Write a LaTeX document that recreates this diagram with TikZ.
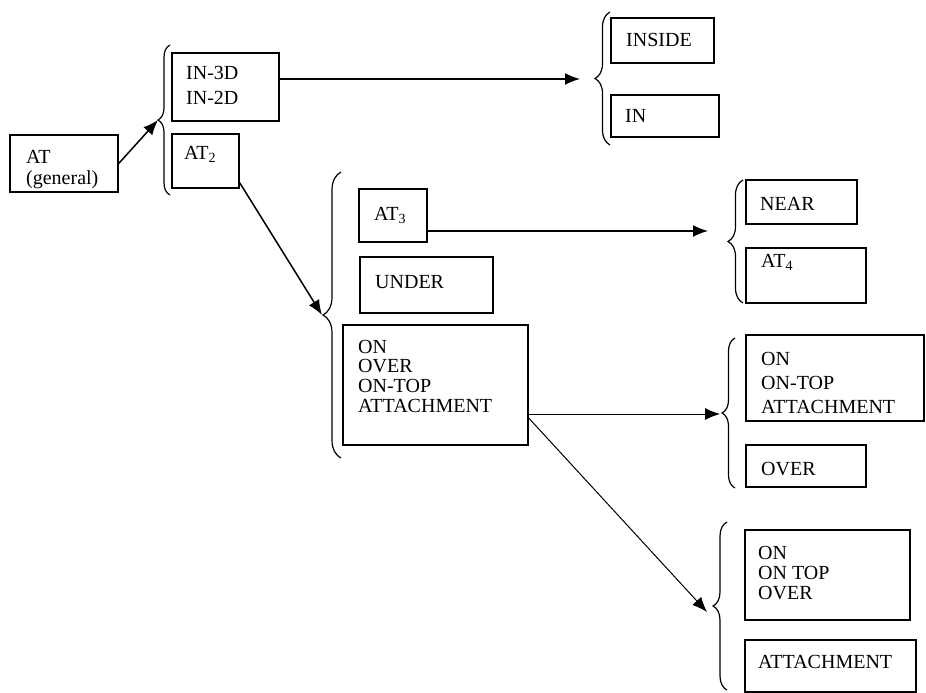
\documentclass[tikz,border=0pt]{standalone}
\usepackage{fontspec}
\setmainfont{Liberation Serif}
\usetikzlibrary{arrows.meta,decorations.pathreplacing,fit}
\begin{document}
\begin{tikzpicture}[x=1pt,y=-1pt,
  box/.style={draw, line width=1.4pt, inner sep=0pt},
  lbl/.style={anchor=base west, inner sep=0pt, font=\fontsize{20}{24}\selectfont},
  brc/.style={decorate, decoration={brace, amplitude=#1}, line width=1.2pt},
  arr/.style={-{Latex[length=15pt,width=12pt]}, line width=1.5pt},
  thinarr/.style={-{Latex[length=15pt,width=12pt]}, line width=1.0pt}]
\useasboundingbox (0,0) rectangle (926,693);

% ---------- boxes ----------
\node[box, fit={(10,135) (118,192)}] (atbox) {};
\node[box, fit={(172,53) (279,121)}] (inbox) {};
\node[box, fit={(172,134) (239,188)}] (at2box) {};
\node[box, fit={(611,18) (714,63)}] (insidebox) {};
\node[box, fit={(611,95) (719,137)}] (inbox2) {};
\node[box, fit={(359,189) (427,242)}] (at3box) {};
\node[box, fit={(360,257) (493,313)}] (underbox) {};
\node[box, fit={(343,325) (528,445)}] (onbox) {};
\node[box, fit={(746,180) (857,224)}] (nearbox) {};
\node[box, fit={(746,248) (866,303)}] (at4box) {};
\node[box, fit={(746,335) (924,421)}] (ontopbox) {};
\node[box, fit={(746,445) (866,487)}] (overbox) {};
\node[box, fit={(745,530) (910,620)}] (onovbox) {};
\node[box, fit={(745,640) (916,692)}] (attbox) {};

% ---------- texts ----------
\node[lbl] (tat) at (26,163) {AT};
\node[lbl] (tgen) at (26,184) {(general)};
\node[lbl] (tin3) at (186,80) {IN-3D};
\node[lbl] (tin2) at (186,104) {IN-2D};
\node[lbl] (tat2) at (184,159) {AT\textsubscript{2}};
\node[lbl] (tinside) at (626,47) {INSIDE};
\node[lbl] (tin) at (625,122) {IN};
\node[lbl] (tat3) at (374,220) {AT\textsubscript{3}};
\node[lbl] (tunder) at (375,288) {UNDER};
\node[lbl] (ton) at (358,353) {ON};
\node[lbl] (tover) at (358,372) {OVER};
\node[lbl] (tontop) at (358,392) {ON-TOP};
\node[lbl] (tatt) at (358,412) {ATTACHMENT};
\node[lbl] (tnear) at (760,210) {NEAR};
\node[lbl] (tat4) at (761,267) {AT\textsubscript{4}};
\node[lbl] (ton2) at (761,365) {ON};
\node[lbl] (tontop2) at (761,389) {ON-TOP};
\node[lbl] (tatt2) at (761,413) {ATTACHMENT};
\node[lbl] (tover2) at (761,475) {OVER};
\node[lbl] (ton3) at (758,559) {ON};
\node[lbl] (tontop3) at (758,579) {ON TOP};
\node[lbl] (tover3) at (758,599) {OVER};
\node[lbl] (tatt3) at (758,668) {ATTACHMENT};

% ---------- braces ----------
\draw[brc=12] (170,195) -- (170,45);
\coordinate (br1) at (158,120);
\draw[brc=15] (610,145) -- (610,12);
\coordinate (br2) at (595,79);
\draw[brc=18] (341,458) -- (341,172);
\coordinate (br3) at (323,315);
\draw[brc=15] (743,303) -- (743,180);
\coordinate (br4) at (708,231);
\draw[brc=13] (735,488) -- (735,338);
\coordinate (br5) at (722,414);
\draw[brc=14] (727,690) -- (727,522);
\coordinate (br6) at (711,612);

% ---------- arrows ----------
\draw[arr] (atbox.east) -- (br1);
\draw[arr] (inbox.east |- br2) -- ([xshift=-15pt]br2);
\draw[arr] ([yshift=6pt]at2box.south east) -- ([xshift=-1pt]br3);
\draw[arr] (at3box.east |- br4) -- (br4);
\draw[thinarr] (onbox.east |- br5) -- ([xshift=-2pt]br5);
\draw[thinarr] ([yshift=-33pt]onbox.east) -- ([xshift=-4pt]br6);
\end{tikzpicture}
\end{document}
